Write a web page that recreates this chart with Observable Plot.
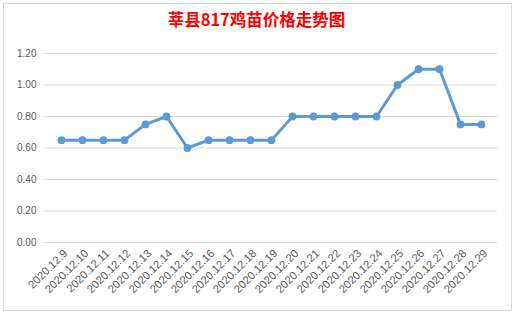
<!DOCTYPE html>
<html>
<head>
<meta charset="utf-8">
<script src="https://cdn.jsdelivr.net/npm/d3@7"></script>
<script src="https://cdn.jsdelivr.net/npm/@observablehq/plot@0.6"></script>
<style>
html, body { margin: 0; padding: 0; background: #ffffff; }
#wrap { position: relative; width: 515px; height: 314px; overflow: hidden; background: #fff; }
#box { position: absolute; left: 3px; top: 3px; width: 509px; height: 308px; border: 1px solid #d9d9d9; box-sizing: border-box; }
#title { position: absolute; left: 0; top: 8px; width: 513px; text-align: center;
  font-family: "Noto Sans CJK SC", sans-serif; font-weight: bold; font-size: 16.5px; color: #ff0000; line-height: 22px; }
#chart { position: absolute; left: 0; top: 0; }
</style>
</head>
<body>
<div id="wrap">
  <div id="box"></div>
  <div id="chart"></div>
  <div id="title">莘县817鸡苗价格走势图</div>
</div>
<script>
const dates = ["2020.12.9","2020.12.10","2020.12.11","2020.12.12","2020.12.13","2020.12.14","2020.12.15",
  "2020.12.16","2020.12.17","2020.12.18","2020.12.19","2020.12.20","2020.12.21","2020.12.22",
  "2020.12.23","2020.12.24","2020.12.25","2020.12.26","2020.12.27","2020.12.28","2020.12.29"];
const prices = [0.65,0.65,0.65,0.65,0.75,0.80,0.60,0.65,0.65,0.65,0.65,0.80,0.80,0.80,0.80,0.80,1.00,1.10,1.10,0.75,0.75];
const yTicks = [0,0.2,0.4,0.6,0.8,1.0,1.2];

const data = dates.map((d, i) => ({date: d, price: prices[i]}));

const chart = Plot.plot({
  width: 515,
  height: 314,
  marginTop: 53,
  marginBottom: 72,
  marginLeft: 44,
  marginRight: 18,
  style: {background: "transparent", fontFamily: "'Liberation Sans', Arial, sans-serif", fontSize: "10px", color: "#595959"},
  x: {type: "point", domain: dates, padding: 0.5, label: null},
  y: {domain: [0, 1.2], label: null},
  marks: [
    Plot.ruleY(yTicks, {stroke: "#d9d9d9", strokeWidth: 1}),
    Plot.axisY({ticks: yTicks, tickSize: 0, tickPadding: 8, tickFormat: d3.format(".2f"), label: null, fill: "#595959"}),
    Plot.axisX({tickSize: 0, tickRotate: -45, tickPadding: 9, dx: 4, label: null, fill: "#595959", fontSize: 11.2}),
    Plot.line(data, {x: "date", y: "price", stroke: "#5b9bd5", strokeWidth: 3, strokeLinejoin: "round", strokeLinecap: "round"}),
    Plot.dot(data, {x: "date", y: "price", r: 3.9, fill: "#5b9bd5", stroke: "none"})
  ]
});
document.getElementById("chart").appendChild(chart);
</script>
</body>
</html>
